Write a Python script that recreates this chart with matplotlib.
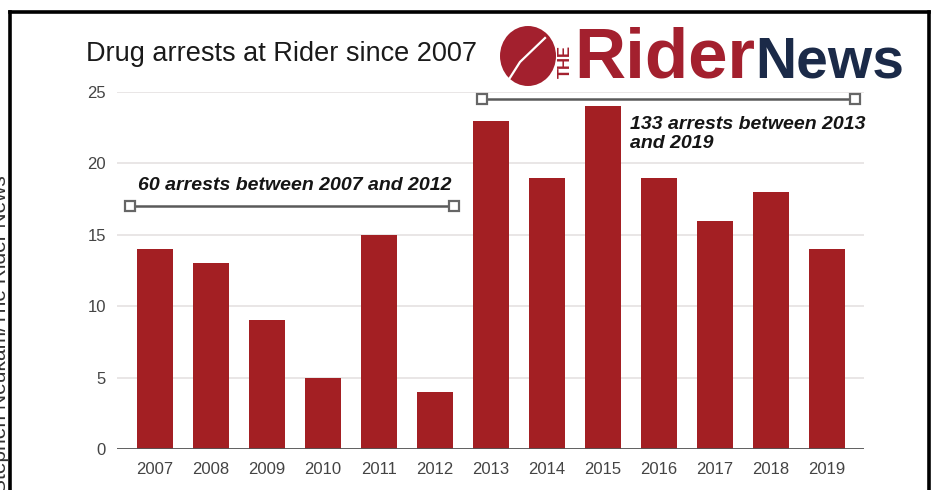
import matplotlib
matplotlib.use("Agg")
import matplotlib.pyplot as plt
from matplotlib.lines import Line2D
from matplotlib.patches import Ellipse
import numpy as np

years = ["2007", "2008", "2009", "2010", "2011", "2012", "2013",
         "2014", "2015", "2016", "2017", "2018", "2019"]
arrests = [14, 13, 9, 5, 15, 4, 23, 19, 24, 19, 16, 18, 14]
y_ticks = [0, 5, 10, 15, 20, 25]
title = "Drug arrests at Rider since 2007"
note1 = "60 arrests between 2007 and 2012"
note2 = "133 arrests between 2013\nand 2019"
credit = "Stephen Neukam/The Rider News"

W, H = 943, 490
plt.rcParams['font.family'] = ['Liberation Sans', 'DejaVu Sans']
fig = plt.figure(figsize=(W / 100, H / 100), dpi=100)

def px(x, y):
    return x / W, 1 - y / H

# axes placement
l, b = px(117, 449)
r, t = px(864, 92)
ax = fig.add_axes([l, b, r - l, t - b])

x = np.arange(len(years))
bar_color = "#a31f23"
ax.bar(x, arrests, width=0.64, color=bar_color, zorder=3)

ax.set_xlim(-0.68, 12.66)
ax.set_ylim(0, 25)
ax.set_yticks(y_ticks)
ax.set_xticks(x)
ax.set_xticklabels(years)
for s in ax.spines.values():
    s.set_visible(False)
ax.grid(axis='y', color="#e3dfdf", linewidth=1.1, zorder=0)
ax.axhline(0, color="#555555", linewidth=1.3, zorder=4)
ax.tick_params(axis='both', length=0, labelsize=12, colors="#444444")
ax.tick_params(axis='x', pad=9)
ax.tick_params(axis='y', pad=8)

# range brackets
line_kw = dict(color="#5a5a5a", linewidth=1.8, marker='s', markersize=7,
               markerfacecolor='white', markeredgecolor="#666666",
               markeredgewidth=1.6, zorder=5, clip_on=False)
ax.plot([0 - 0.45, 5 + 0.34], [17, 17], **line_kw)
ax.plot([6 - 0.16, 12 + 0.5], [24.5, 24.5], **line_kw)

ax.text(2.5, 18.45, note1, ha='center', va='center', fontsize=14,
        fontweight='bold', fontstyle='italic', color="#151515", zorder=6)
ax.text(8.48, 23.35, note2, ha='left', va='top', fontsize=14,
        fontweight='bold', fontstyle='italic', color="#151515",
        linespacing=1.2, zorder=6)

# title
fig.text(*px(86, 61), title, ha='left', va='baseline', fontsize=19.5,
         color="#1a1a1a")

# logo
logo_red = "#a3202e"
logo_navy = "#1b2a48"
cx, cy = px(528, 56)
leaf = Ellipse((cx, cy), 56 / W, 60 / H, facecolor=logo_red,
               edgecolor='none', transform=fig.transFigure)
fig.patches.append(leaf)
vx = [px(506, 84)[0], px(520, 62)[0], px(545, 38)[0]]
vy = [px(506, 84)[1], px(520, 62)[1], px(545, 38)[1]]
fig.add_artist(Line2D(vx, vy, color='white', linewidth=1.6,
                      transform=fig.transFigure))
fig.text(*px(565, 61), "THE", rotation=90, ha='center', va='center',
         fontsize=12, fontweight='bold', color=logo_red)
fig.text(*px(574, 78), "Rider", ha='left', va='baseline', fontsize=51,
         fontweight='bold', color=logo_red)
fig.text(*px(904, 78), "News", ha='right', va='baseline', fontsize=41,
         fontweight='bold', color=logo_navy)

# credit
fig.text(*px(10, 175), credit, rotation=90, ha='right', va='top',
         fontsize=15, color="#333333")

# frame
fw = 2.6
fig.add_artist(Line2D([px(10, 0)[0]] * 2, [px(0, 490)[1], px(0, 12)[1]],
                      color='black', linewidth=fw, transform=fig.transFigure))
fig.add_artist(Line2D([px(929, 0)[0]] * 2, [px(0, 490)[1], px(0, 12)[1]],
                      color='black', linewidth=fw, transform=fig.transFigure))
fig.add_artist(Line2D([px(10, 0)[0], px(929, 0)[0]], [px(0, 12)[1]] * 2,
                      color='black', linewidth=fw, transform=fig.transFigure,
                      solid_capstyle='projecting'))

fig.savefig("out.png", dpi=100)
